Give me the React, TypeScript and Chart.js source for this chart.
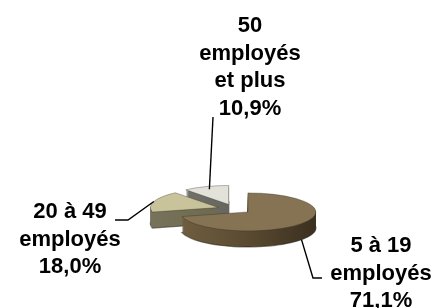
import React, { useEffect, useRef } from "react";
import { Chart, registerables } from "chart.js";

Chart.register(...registerables);

// ---- data ----
const categoryLines: string[][] = [
  ["5 à 19", "employés"],
  ["20 à 49", "employés"],
  ["50", "employés", "et plus"],
];
const shares: number[] = [71.1, 18.0, 10.9];

// ---- styles ----
const topColors = ["#857354", "#c8c39b", "#e2e2da"];
const sideColors = [
  ["#6f5e40", "#5a4a31", "#3a301f"],
  ["#77735a", "#6d6a50", "#5c5944"],
  ["#77776f", "#66665f", "#55554f"],
];
const labelAnchors = [
  { x: 381, y: 252 },
  { x: 70, y: 218 },
  { x: 250, y: 32 },
];
// leader geometry: radius fraction, use bottom of side, then elbow points
const leaders = [
  { f: 1.0, bottom: true, pts: [[313, 278], [322, 278]] },
  { f: 1.0, bottom: false, pts: [[128, 220], [115, 220]] },
  { f: 0.85, bottom: false, pts: [[213, 117]] },
];
const TILT = 0.28;
const DEPTH = 16;
const EXPLODE = 17;
const CENTER_Y = 209;
const LINE_H = 27.5;

const fmt = (v: number) => v.toFixed(1).replace(".", ",") + "%";

const pie3d = {
  id: "pie3d",
  beforeDatasetsDraw(chart: any) {
    const ctx: CanvasRenderingContext2D = chart.ctx;
    const meta = chart.getDatasetMeta(0);
    const area = chart.chartArea;
    const pcy = (area.top + area.bottom) / 2;
    const f0 = CENTER_Y - pcy * TILT;
    const items = meta.data.map((el: any, i: number) => {
      const p = el.getProps(["x", "y", "startAngle", "endAngle", "outerRadius"], true);
      const mid = (p.startAngle + p.endAngle) / 2;
      const ox = Math.cos(mid) * EXPLODE;
      const oy = Math.sin(mid) * EXPLODE;
      return { el, i, p, mid, ox, oy };
    });
    const order = [...items].sort((a, b) => a.oy - b.oy);
    ctx.save();
    for (const it of order) {
      const { p, ox, oy, i, el } = it;
      const cx = p.x + ox;
      const cy = p.y + oy;
      const r = p.outerRadius;
      const grad = ctx.createLinearGradient(cx - r, 0, cx + r, 0);
      grad.addColorStop(0, sideColors[i][0]);
      grad.addColorStop(0.5, sideColors[i][1]);
      grad.addColorStop(1, sideColors[i][2]);
      for (let d = DEPTH; d >= 1; d--) {
        ctx.setTransform(1, 0, 0, TILT, 0, f0 + d);
        ctx.beginPath();
        ctx.moveTo(cx, cy);
        ctx.arc(cx, cy, r, p.startAngle, p.endAngle);
        ctx.closePath();
        ctx.fillStyle = grad;
        ctx.fill();
        if (d === DEPTH) {
          ctx.setTransform(1, 0, 0, 1, 0, 0);
          ctx.strokeStyle = "rgba(30,25,15,0.55)";
          ctx.lineWidth = 1.2;
          ctx.save();
          ctx.setTransform(1, 0, 0, TILT, 0, f0 + d);
          ctx.restore();
          // stroke bottom outline in screen space
          ctx.beginPath();
          const steps = 60;
          const sy = (Y: number) => f0 + d + Y * TILT;
          ctx.moveTo(cx, sy(cy));
          for (let s = 0; s <= steps; s++) {
            const a = p.startAngle + ((p.endAngle - p.startAngle) * s) / steps;
            ctx.lineTo(cx + Math.cos(a) * r, sy(cy + Math.sin(a) * r));
          }
          ctx.closePath();
          ctx.stroke();
        }
      }
      ctx.setTransform(1, 0, 0, TILT, 0, f0);
      ctx.translate(ox, oy);
      el.draw(ctx);
    }
    ctx.restore();
    return false;
  },
  afterDraw(chart: any) {
    const ctx: CanvasRenderingContext2D = chart.ctx;
    const meta = chart.getDatasetMeta(0);
    const area = chart.chartArea;
    const pcy = (area.top + area.bottom) / 2;
    const f0 = CENTER_Y - pcy * TILT;
    ctx.save();
    ctx.setTransform(1, 0, 0, 1, 0, 0);
    ctx.strokeStyle = "#000";
    ctx.lineWidth = 1.4;
    meta.data.forEach((el: any, i: number) => {
      const p = el.getProps(["x", "y", "startAngle", "endAngle", "outerRadius"], true);
      const mid = (p.startAngle + p.endAngle) / 2;
      const ox = Math.cos(mid) * EXPLODE;
      const oy = Math.sin(mid) * EXPLODE;
      const L = leaders[i];
      const X = p.x + ox + Math.cos(mid) * p.outerRadius * L.f;
      const Y = p.y + oy + Math.sin(mid) * p.outerRadius * L.f;
      const sx = X;
      const sy = f0 + Y * TILT + (L.bottom ? DEPTH : 0);
      ctx.beginPath();
      ctx.moveTo(sx, sy);
      for (const [px, py] of L.pts) ctx.lineTo(px, py);
      ctx.stroke();
    });
    ctx.fillStyle = "#000";
    ctx.font = 'bold 22px "Liberation Sans", Arial, sans-serif';
    ctx.textAlign = "center";
    ctx.textBaseline = "alphabetic";
    categoryLines.forEach((lines, i) => {
      const all = [...lines, fmt(shares[i])];
      const a = labelAnchors[i];
      all.forEach((t, k) => ctx.fillText(t, a.x, a.y + k * LINE_H));
    });
    ctx.restore();
  },
};

export default function App() {
  const ref = useRef<HTMLCanvasElement>(null);
  useEffect(() => {
    if (!ref.current) return;
    const chart = new Chart(ref.current, {
      type: "pie",
      data: {
        labels: categoryLines.map((l) => l.join(" ")),
        datasets: [
          {
            data: shares,
            backgroundColor: topColors,
            borderColor: "rgba(40,34,22,0.5)",
            borderWidth: 1,
          },
        ],
      },
      options: {
        responsive: false,
        animation: false,
        devicePixelRatio: 1,
        radius: 68,
        layout: { padding: { left: 29, right: 0, top: 0, bottom: 0 } },
        plugins: {
          legend: { display: false },
          tooltip: { enabled: false },
          title: { display: false },
        },
      } as any,
      plugins: [pie3d],
    });
    return () => chart.destroy();
  }, []);
  return (
    <div style={{ position: "fixed", left: 0, top: 0, width: 440, height: 308, background: "#fff" }}>
      <canvas ref={ref} width={440} height={308} style={{ width: 440, height: 308 }} />
    </div>
  );
}
